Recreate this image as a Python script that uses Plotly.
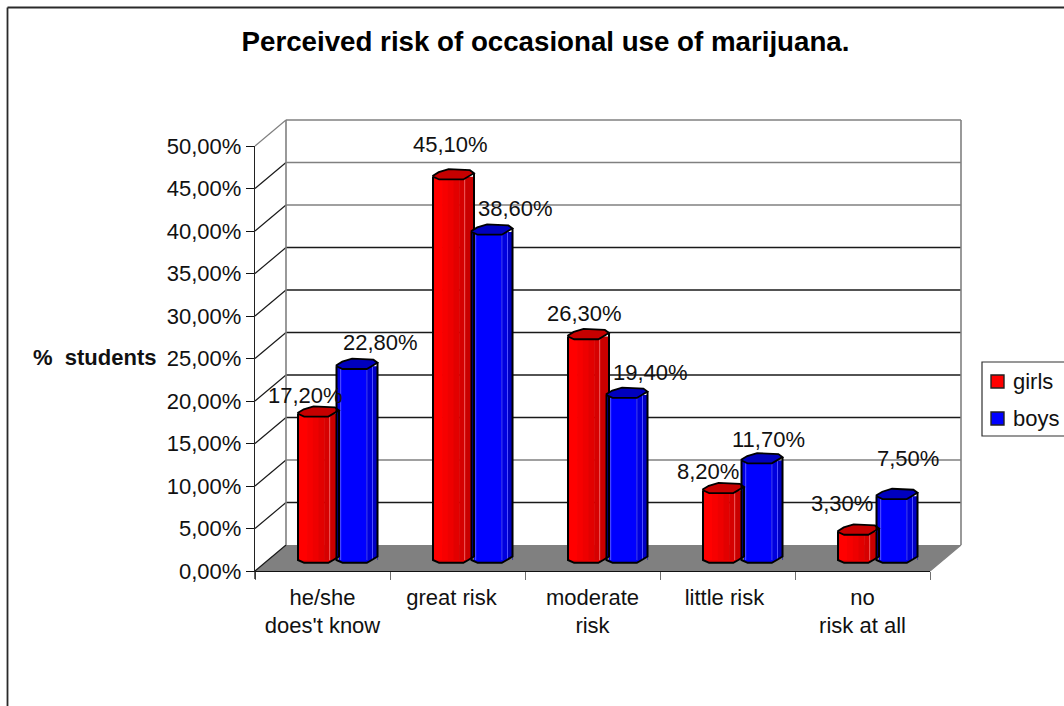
import numpy as np
import plotly.graph_objects as go

# ---- data ----
# the two single-line labels sit a little left of centre, hence the trailing padding
categories = ["he/she<br>does't know", "great risk\u00a0\u00a0", "moderate<br>risk", "little risk\u00a0", "no<br>risk at all"]
girls = [17.2, 45.1, 26.3, 8.2, 3.3]
boys = [22.8, 38.6, 19.4, 11.7, 7.5]
series_names = ["girls", "boys"]
tick_values = [0, 5, 10, 15, 20, 25, 30, 35, 40, 45, 50]
tick_labels = ["0,00%", "5,00%", "10,00%", "15,00%", "20,00%", "25,00%",
               "30,00%", "35,00%", "40,00%", "45,00%", "50,00%"]

# label nudges away from the column tops, in pixels
girls_dx = [-32.5, -22.5, -23.5, -34.5, -35.5]
girls_dy = [18, 32.6, 23, 19, 28]
boys_dx = [42.5, 42.5, 42.5, 25.5, 30.5]
boys_dy = [24, 23, 23, 21.5, 38]

W, H = 1064, 706
FONT = "Liberation Sans"
INK = "#111111"
WALL_GRAY = "#808080"

# front plane of the fake 3D box, pixels
X0, X1 = 255.0, 930.0
Y0, Y50 = 571.0, 146.0
PX_PER_UNIT = (Y0 - Y50) / 50.0
DEPTH_X, DEPTH_Y = 31.0, 26.0        # shift of the back wall
MID_X, MID_Y = 15.0, 11.0            # shift of the column plane
BAR_W = 41.0 / 135.0


def fx(px):
    return px / W


def fy(px):
    return 1.0 - px / H


# ---- wall, floor and frame ----
shapes = []
line_colors = {50: WALL_GRAY, 45: WALL_GRAY, 40: WALL_GRAY, 10: WALL_GRAY}


def seg(x0, y0, x1, y1, color, width, layer="below"):
    shapes.append(dict(type="line", xref="paper", yref="paper", layer=layer,
                       x0=fx(x0), y0=fy(y0), x1=fx(x1), y1=fy(y1),
                       line=dict(color=color, width=width)))


floor_path = "M{},{} L{},{} L{},{} L{},{} Z".format(
    fx(X0), fy(Y0), fx(X1), fy(Y0),
    fx(X1 + DEPTH_X), fy(Y0 - DEPTH_Y), fx(X0 + DEPTH_X), fy(Y0 - DEPTH_Y))
shapes.append(dict(type="path", xref="paper", yref="paper", layer="below", path=floor_path,
                   fillcolor="#808080", line=dict(width=0)))

for v in tick_values:
    y_front = Y0 - v * PX_PER_UNIT
    y_back = y_front - DEPTH_Y
    c = line_colors.get(v, "#1a1a1a")
    if v > 0:
        seg(X0 + DEPTH_X, y_back, X1 + DEPTH_X, y_back, c, 1.3)
    seg(X0, y_front, X0 + DEPTH_X, y_back, WALL_GRAY if v == 50 else "#1a1a1a", 1.2)

seg(X0 + DEPTH_X, Y50 - DEPTH_Y, X0 + DEPTH_X, Y0 - DEPTH_Y, WALL_GRAY, 1.6)
seg(X1 + DEPTH_X, Y50 - DEPTH_Y, X1 + DEPTH_X, Y0 - DEPTH_Y, WALL_GRAY, 1.6)
seg(X1, Y0, X1 + DEPTH_X, Y0 - DEPTH_Y, WALL_GRAY, 1.2)
# the value axis carries on through the first category tick
seg(X0, Y0, X0, Y0 + 8, "#222222", 1.4, layer="above")

# chart frame: only the top and left edges fall inside the page
seg(7.5, 7.5, W, 7.5, "#2a2a2a", 1.8)
seg(7.5, 7.5, 7.5, H, "#2a2a2a", 1.8)

fig = go.Figure()

# transparent series that carries the category axis
fig.add_trace(go.Scatter(x=categories, y=girls, mode="markers", xaxis="x", yaxis="y",
                         marker=dict(opacity=0), hoverinfo="skip", showlegend=False))

# shading bands across a column: start, end, colour
red_bands = [
    (0.00, 0.22, "rgb(255,0,0)"), (0.22, 0.36, "rgb(247,0,0)"), (0.36, 0.50, "rgb(238,0,0)"),
    (0.50, 0.64, "rgb(226,0,0)"), (0.64, 0.76, "rgb(214,0,0)"), (0.76, 0.785, "rgb(236,80,80)"),
    (0.785, 1.00, "rgb(202,0,0)"),
]
blue_bands = [
    (0.00, 0.09, "rgb(0,0,225)"), (0.09, 0.115, "rgb(70,70,255)"), (0.115, 0.74, "rgb(0,0,255)"),
    (0.74, 0.76, "rgb(40,40,235)"), (0.76, 0.87, "rgb(0,0,222)"), (0.87, 0.89, "rgb(80,80,255)"),
    (0.89, 1.00, "rgb(0,0,195)"),
]

idx = np.arange(len(categories))
offsets = [-39.5 / 135.0, -1.0 / 135.0]
for vals, off, bands, name in zip([girls, boys], offsets, [red_bands, blue_bands], series_names):
    for a, b, col in bands:
        fig.add_trace(go.Bar(x=idx, y=vals, xaxis="x3", yaxis="y3", name=name,
                             offset=off + a * BAR_W, width=(b - a) * BAR_W + 0.004,
                             marker=dict(color=col, line=dict(width=0)),
                             hoverinfo="skip", showlegend=False))

# outline fractions across the column and their pixel offsets from the left corner
front_fx = np.array([0.0, 0.15, 0.74, 0.86, 1.0])
front_dy = np.array([0.0, 2.8, 2.8, 0.0, -3.5])
back_fx = np.array([1.0, 0.90, 0.38, 0.14, 0.0])
back_dy = np.array([-3.5, -6.5, -7.5, -4.5, -1.0])


def polys(vals, off, xf, dy_px, close=True, base=False):
    xs, ys = [], []
    for i, v in enumerate(vals):
        level = 0.0 if base else v
        xs += list(i + off + xf * BAR_W) + ([i + off + xf[0] * BAR_W] if close else []) + [None]
        ys += list(level - dy_px / PX_PER_UNIT) + ([level - dy_px[0] / PX_PER_UNIT] if close else []) + [None]
    return xs, ys


def add_poly(xs, ys, fill, line_w):
    fig.add_trace(go.Scatter(x=xs, y=ys, xaxis="x3", yaxis="y3", mode="lines", fill="toself",
                             fillcolor=fill, line=dict(color="black", width=line_w),
                             hoverinfo="skip", showlegend=False))


for vals, off, cap_col, low_col in zip([girls, boys], offsets,
                                       ["rgb(198,0,0)", "rgb(0,0,190)"],
                                       ["rgb(235,0,0)", "rgb(0,0,245)"]):
    # floor showing through below the raised right corner of the base
    xs, ys = polys(vals, off, np.array([0.86, 1.0, 1.0]), np.array([0.0, -3.5, 0.6]), base=True)
    fig.add_trace(go.Scatter(x=xs, y=ys, xaxis="x3", yaxis="y3", mode="lines", fill="toself",
                             fillcolor="#808080", line=dict(width=0),
                             hoverinfo="skip", showlegend=False))
    # rounded base below the column
    xs, ys = polys(vals, off, front_fx[:4], front_dy[:4], base=True)
    fig.add_trace(go.Scatter(x=xs, y=ys, xaxis="x3", yaxis="y3", mode="lines", fill="toself",
                             fillcolor=low_col, line=dict(width=0),
                             hoverinfo="skip", showlegend=False))
    # side outline from the top left corner down round the base and back up
    ox, oy = [], []
    for i, v in enumerate(vals):
        ox += [i + off] + list(i + off + front_fx * BAR_W) + [i + off + BAR_W, None]
        oy += [v] + list(-front_dy / PX_PER_UNIT) + [v + 3.5 / PX_PER_UNIT, None]
    fig.add_trace(go.Scatter(x=ox, y=oy, xaxis="x3", yaxis="y3", mode="lines",
                             line=dict(color="black", width=2.0), hoverinfo="skip", showlegend=False))
    # top cap
    cap_x = np.concatenate([front_fx, back_fx[1:]])
    cap_y = np.concatenate([front_dy, back_dy[1:]])
    xs, ys = polys(vals, off, cap_x, cap_y)
    add_poly(xs, ys, cap_col, 1.8)

# value labels, written the way the axis writes its numbers
annotations = []


def pct(v):
    return f"{v:.2f}%".replace(".", ",")


for vals, dxs, dys in [(girls, girls_dx, girls_dy), (boys, boys_dx, boys_dy)]:
    for i, v in enumerate(vals):
        annotations.append(dict(x=i, y=v, xref="x3", yref="y3", text=pct(v), showarrow=False,
                                xshift=dxs[i], yshift=dys[i], xanchor="center", yanchor="middle",
                                font=dict(family=FONT, size=22, color=INK)))

annotations.append(dict(x=fx(94.5), y=fy(358), xref="paper", yref="paper",
                        text="<b>%\u00a0\u00a0students</b>", showarrow=False,
                        xanchor="center", yanchor="middle",
                        font=dict(family=FONT, size=22, color=INK)))

# legend box
shapes.append(dict(type="rect", xref="paper", yref="paper", layer="above",
                   x0=fx(982), x1=fx(W + 4), y0=fy(436), y1=fy(362),
                   fillcolor="white", line=dict(color="#303030", width=1.2)))
for name, col, yc in zip(series_names, ["#ff0000", "#0000ff"], [381.5, 418.5]):
    shapes.append(dict(type="rect", xref="paper", yref="paper", layer="above",
                       x0=fx(991), x1=fx(1004), y0=fy(yc + 6.5), y1=fy(yc - 6.5),
                       fillcolor=col, line=dict(color="#222222", width=1.4)))
    annotations.append(dict(x=fx(1010.5), y=fy(yc - 0.5), xref="paper", yref="paper", text=name,
                            showarrow=False, xanchor="left", yanchor="middle",
                            font=dict(family=FONT, size=22, color=INK)))

fig.update_layout(
    width=W, height=H, margin=dict(l=0, r=0, t=0, b=0, autoexpand=False),
    paper_bgcolor="white", plot_bgcolor="rgba(0,0,0,0)",
    barmode="overlay", showlegend=False, shapes=shapes, annotations=annotations,
    title=dict(text="<b>Perceived risk of occasional use of marijuana.</b>",
               x=545.5 / W, xanchor="center", y=fy(41), yanchor="middle",
               font=dict(family=FONT, size=27.7, color="black")),
    font=dict(family=FONT, size=22, color=INK),
    xaxis=dict(domain=[fx(X0), fx(X1)], type="category", categoryorder="array",
               categoryarray=categories, range=[-0.5, 4.5], tickson="boundaries",
               ticks="outside", ticklen=8, tickcolor="#707070", tickwidth=1.3,
               showgrid=False, zeroline=False, showline=True, linecolor="#111111", linewidth=1.4,
               tickfont=dict(family=FONT, size=22, color=INK), tickangle=0, anchor="y",
               ticklabelstandoff=6, fixedrange=True),
    yaxis=dict(domain=[fy(Y0), fy(Y50)], range=[0, 50], tickvals=tick_values, ticktext=tick_labels,
               ticks="outside", ticklen=8, tickcolor="#111111", tickwidth=1.3,
               showgrid=False, zeroline=False, showline=True, linecolor="#222222", linewidth=1.4,
               tickfont=dict(family=FONT, size=22, color=INK), anchor="x", fixedrange=True),
    # plane of the columns, a little behind the front axes; it runs slightly below zero
    xaxis3=dict(domain=[fx(X0 + MID_X), fx(X1 + MID_X)], range=[-0.5, 4.5], visible=False,
                anchor="y3", fixedrange=True),
    yaxis3=dict(domain=[fy(Y0 - MID_Y + 2 * PX_PER_UNIT), fy(Y50 - MID_Y)], range=[-2, 50], visible=False,
                anchor="x3", fixedrange=True),
)

fig.write_html("out.html")
